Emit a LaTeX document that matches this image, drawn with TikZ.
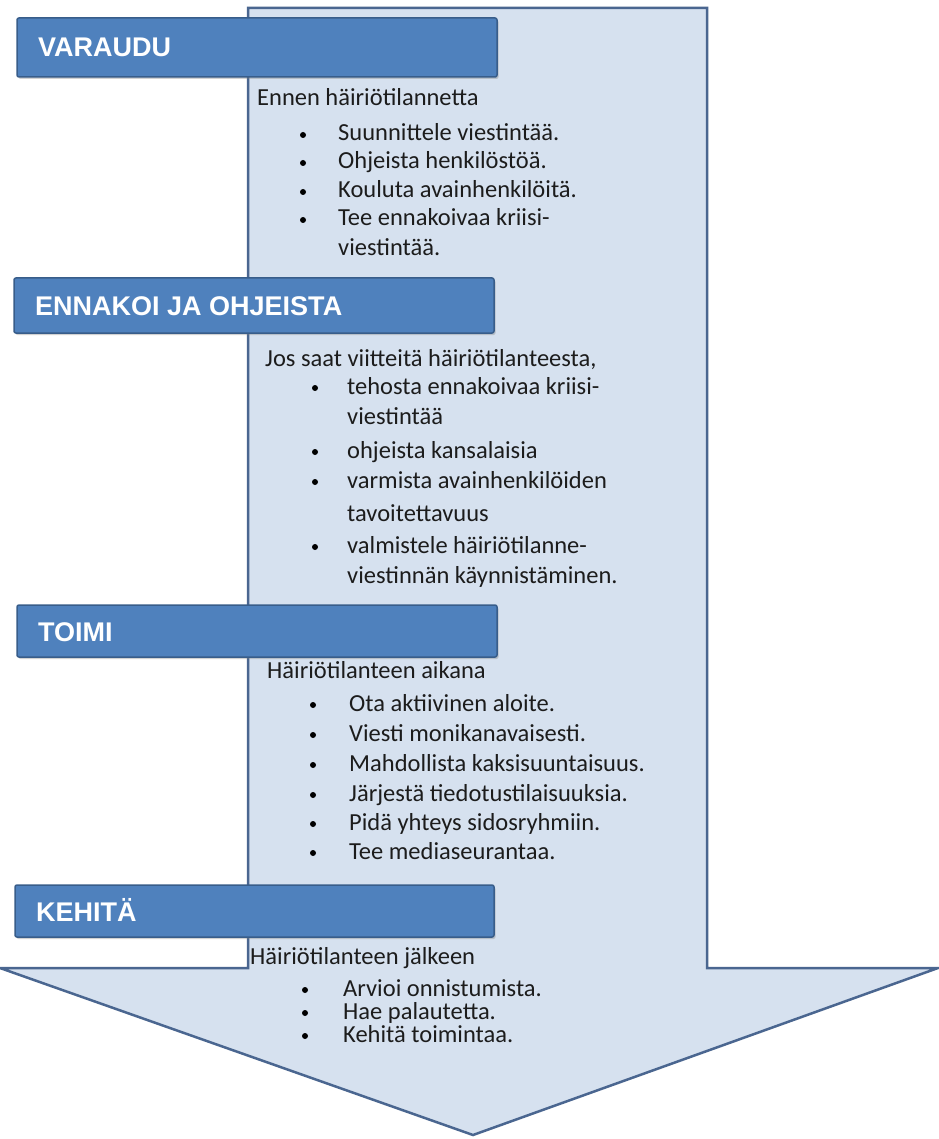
\documentclass[tikz,border=0pt]{standalone}
\usepackage{fontspec}
\setmainfont{Carlito}
\newfontfamily\hdrfont{Liberation Sans}
\usetikzlibrary{shadows}
\definecolor{shaftfill}{HTML}{D6E1EF}
\definecolor{shaftline}{HTML}{4A6690}
\definecolor{hdrfill}{HTML}{4F81BD}
\definecolor{hdrline}{HTML}{385D8A}
\definecolor{bodytext}{HTML}{1C1C1C}
\begin{document}
\begin{tikzpicture}[x=1pt,y=-1pt,
  shaft/.style={draw=shaftline, line width=2.5pt, fill=shaftfill, line join=miter},
  hdr/.style={draw=hdrline, line width=1.5pt, fill=hdrfill, rounded corners=2pt,
    drop shadow={shadow xshift=1.5pt, shadow yshift=-2pt, opacity=0.35}},
  hdrtext/.style={anchor=base west, inner sep=0pt, text=white,
    font=\hdrfont\bfseries\fontsize{27}{31}\selectfont},
  intro/.style={anchor=base west, inner sep=0pt, text=bodytext,
    font=\fontsize{24.5}{28}\selectfont},
  item/.style={anchor=base west, inner sep=0pt, text=bodytext,
    font=\fontsize{24.5}{28}\selectfont},
  dot/.style={circle, fill=black, inner sep=0pt, minimum size=6pt}
]
\useasboundingbox (0,0) rectangle (938,1139);
\fill[white] (0,0) rectangle (938,1139);

% big arrow
\draw[shaft] (248,8) -- (707,8) -- (707,968) -- (938,968) -- (473,1135)
  -- (0,968) -- (248,968) -- cycle;

% headers
\path[hdr] (17,18) rectangle (497,77);
\node[hdrtext] (h1) at (38,57) {VARAUDU};
\path[hdr] (14,278) rectangle (494,333);
\node[hdrtext] (h2) at (35,315) {ENNAKOI JA OHJEISTA};
\path[hdr] (17,605) rectangle (497,657);
\node[hdrtext] (h3) at (38,641) {TOIMI};
\path[hdr] (15,885) rectangle (494,937);
\node[hdrtext] (h4) at (36,921) {KEHITÄ};

% section 1
\node[intro] (s1) at (257,106) {Ennen häiriötilannetta};
\node[dot] (b11) at (303,135) {};
\node[item] (t11) at (338,141) {Suunnittele viestintää.};
\node[dot] (b12) at (303,163) {};
\node[item] (t12) at (338,169) {Ohjeista henkilöstöä.};
\node[dot] (b13) at (303,192) {};
\node[item] (t13) at (338,198) {Kouluta avainhenkilöitä.};
\node[dot] (b14) at (303,220) {};
\node[item] (t14) at (338,226) {Tee ennakoivaa kriisi-};
\node[item] (t15) at (338,256) {viestintää.};

% section 2
\node[intro] (s2) at (265,366) {Jos saat viitteitä häiriötilanteesta,};
\node[dot] (b21) at (315,388) {};
\node[item] (t21) at (347,394) {tehosta ennakoivaa kriisi-};
\node[item] (t22) at (347,424) {viestintää};
\node[dot] (b23) at (315,452) {};
\node[item] (t23) at (347,458) {ohjeista kansalaisia};
\node[dot] (b24) at (315,482) {};
\node[item] (t24) at (347,488) {varmista avainhenkilöiden};
\node[item] (t25) at (347,521) {tavoitettavuus};
\node[dot] (b26) at (315,547) {};
\node[item] (t26) at (347,553) {valmistele häiriötilanne-};
\node[item] (t27) at (347,583) {viestinnän käynnistäminen.};

% section 3
\node[intro] (s3) at (267,678) {Häiriötilanteen aikana};
\node[dot] (b31) at (313,705) {};
\node[item] (t31) at (349,711) {Ota aktiivinen aloite.};
\node[dot] (b32) at (313,735) {};
\node[item] (t32) at (349,741) {Viesti monikanavaisesti.};
\node[dot] (b33) at (313,765) {};
\node[item] (t33) at (349,771) {Mahdollista kaksisuuntaisuus.};
\node[dot] (b34) at (313,795) {};
\node[item] (t34) at (349,801) {Järjestä tiedotustilaisuuksia.};
\node[dot] (b35) at (313,824) {};
\node[item] (t35) at (349,830) {Pidä yhteys sidosryhmiin.};
\node[dot] (b36) at (313,853) {};
\node[item] (t36) at (349,859) {Tee mediaseurantaa.};

% section 4
\node[intro] (s4) at (250,964) {Häiriötilanteen jälkeen};
\node[dot] (b41) at (305,990) {};
\node[item] (t41) at (343,996) {Arvioi onnistumista.};
\node[dot] (b42) at (305,1013) {};
\node[item] (t42) at (343,1019) {Hae palautetta.};
\node[dot] (b43) at (305,1036) {};
\node[item] (t43) at (343,1042) {Kehitä toimintaa.};
\end{tikzpicture}
\end{document}
